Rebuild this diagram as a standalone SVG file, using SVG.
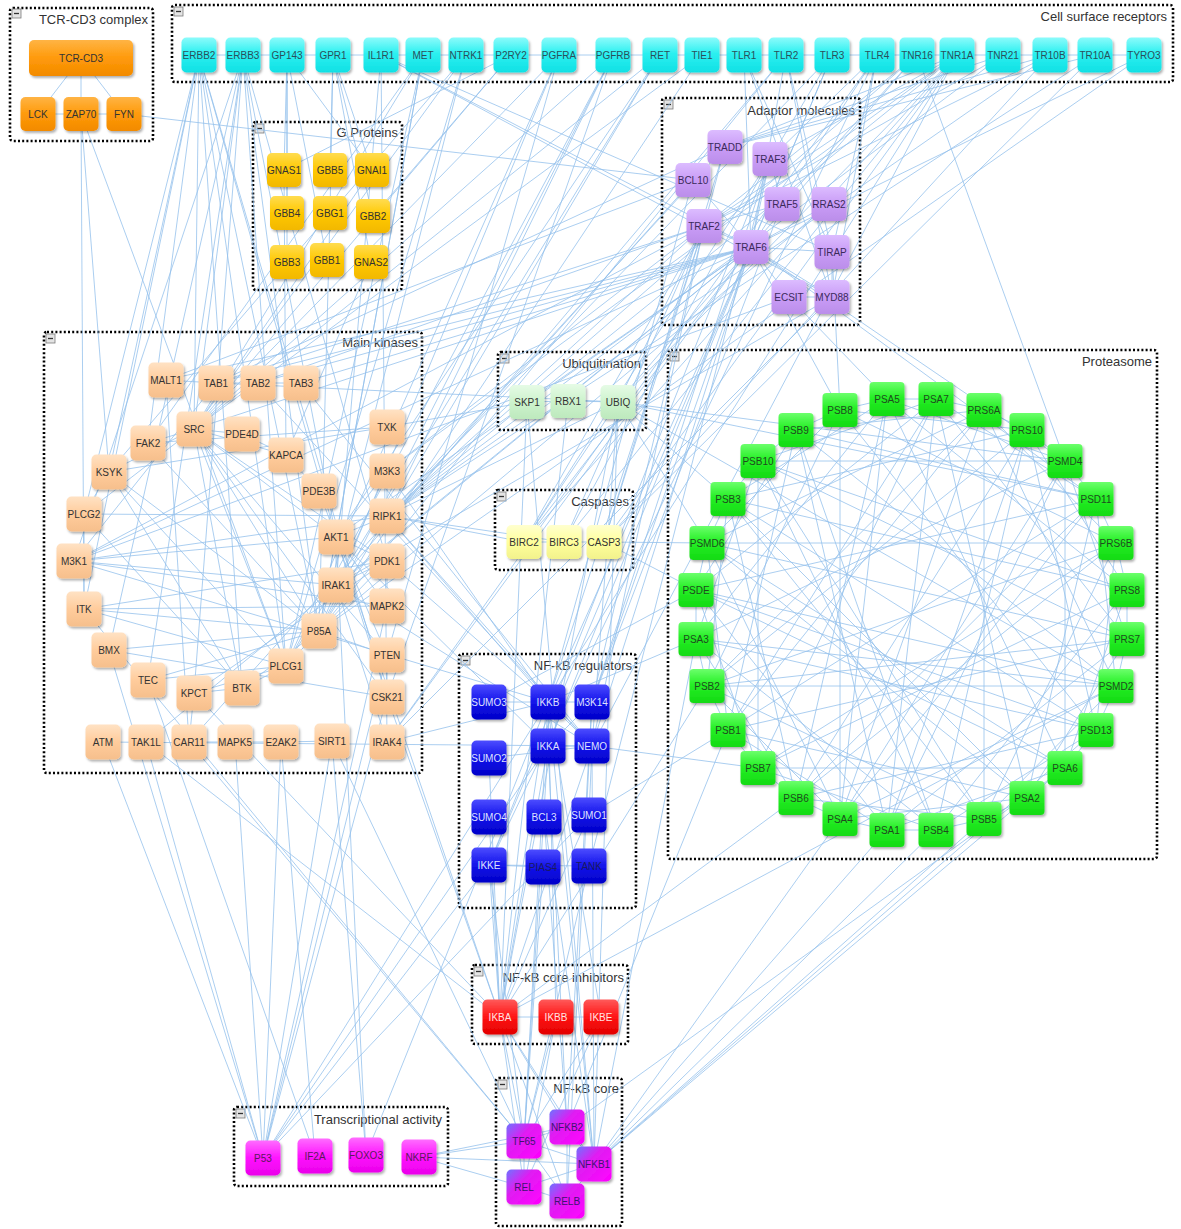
<svg xmlns="http://www.w3.org/2000/svg" width="1181" height="1229" viewBox="0 0 1181 1229">
<defs>
<filter id="sh" x="-20%" y="-20%" width="150%" height="150%"><feDropShadow dx="1.5" dy="2" stdDeviation="1.2" flood-color="#000" flood-opacity="0.3"/></filter>
<linearGradient id="g-tcr" x1="0" y1="0" x2="0" y2="1"><stop offset="0" stop-color="#ffb445"/><stop offset="0.5" stop-color="#ff9a0a"/><stop offset="1" stop-color="#f28a00"/></linearGradient>
<linearGradient id="g-rec" x1="0" y1="0" x2="0" y2="1"><stop offset="0" stop-color="#8cfbfb"/><stop offset="0.45" stop-color="#2cf0f0"/><stop offset="1" stop-color="#10e0e4"/></linearGradient>
<linearGradient id="g-gp" x1="0" y1="0" x2="0" y2="1"><stop offset="0" stop-color="#ffdc50"/><stop offset="0.5" stop-color="#ffc800"/><stop offset="1" stop-color="#f2b800"/></linearGradient>
<linearGradient id="g-ad" x1="0" y1="0" x2="0" y2="1"><stop offset="0" stop-color="#dcbcff"/><stop offset="0.5" stop-color="#c99cf6"/><stop offset="1" stop-color="#bb8eea"/></linearGradient>
<linearGradient id="g-kin" x1="0" y1="0" x2="0" y2="1"><stop offset="0" stop-color="#ffe2c4"/><stop offset="0.5" stop-color="#ffcc9c"/><stop offset="1" stop-color="#f6bf8c"/></linearGradient>
<linearGradient id="g-ub" x1="0" y1="0" x2="0" y2="1"><stop offset="0" stop-color="#e6fbe6"/><stop offset="0.5" stop-color="#cdf3cd"/><stop offset="1" stop-color="#bde9bd"/></linearGradient>
<linearGradient id="g-cas" x1="0" y1="0" x2="0" y2="1"><stop offset="0" stop-color="#ffffcf"/><stop offset="0.5" stop-color="#ffff9c"/><stop offset="1" stop-color="#f2f28c"/></linearGradient>
<linearGradient id="g-pro" x1="0" y1="0" x2="0" y2="1"><stop offset="0" stop-color="#6cff6c"/><stop offset="0.45" stop-color="#26f026"/><stop offset="1" stop-color="#14da14"/></linearGradient>
<linearGradient id="g-reg" x1="0" y1="0" x2="0" y2="1"><stop offset="0" stop-color="#4c4cff"/><stop offset="0.5" stop-color="#1414ea"/><stop offset="1" stop-color="#0000c8"/></linearGradient>
<linearGradient id="g-inh" x1="0" y1="0" x2="0" y2="1"><stop offset="0" stop-color="#ff5a5a"/><stop offset="0.5" stop-color="#ff1414"/><stop offset="1" stop-color="#e20000"/></linearGradient>
<linearGradient id="g-core" x1="0" y1="0" x2="1" y2="1"><stop offset="0" stop-color="#6e74ff"/><stop offset="0.4" stop-color="#e01cf2"/><stop offset="1" stop-color="#ff00ff"/></linearGradient>
<linearGradient id="g-tr" x1="0" y1="0" x2="0" y2="1"><stop offset="0" stop-color="#ff6cff"/><stop offset="0.5" stop-color="#ff14ff"/><stop offset="1" stop-color="#ea00ea"/></linearGradient>
</defs>
<style>
.ct rect.frame{fill:none;stroke:#000;stroke-width:2.6;stroke-dasharray:2 2.2}
.ct text{font-family:"Liberation Sans",Arial,sans-serif;font-size:13px;fill:#333;text-anchor:end}
.ct .tg rect{fill:#e4e4e4;stroke:#7a7a7a;stroke-width:0.8}
.ct .tg path{stroke:#333;stroke-width:1.3;fill:none}
#connectors line{stroke:#94c0ec;stroke-width:1;stroke-opacity:0.78}
.node rect{filter:url(#sh)}
.node text{font-family:"Liberation Sans",Arial,sans-serif;font-size:10px;text-anchor:middle;fill:#333}
.tcr rect{fill:url(#g-tcr)}
.rec rect{fill:url(#g-rec)}
.rec text{fill:#2b4f5a}
.gp rect{fill:url(#g-gp)}
.ad rect{fill:url(#g-ad)}
.ad text{fill:#3a2a5a}
.kin rect{fill:url(#g-kin)}
.ub rect{fill:url(#g-ub)}
.cas rect{fill:url(#g-cas)}
.pro rect{fill:url(#g-pro)}
.pro text{fill:#1f4a1f}
.reg rect{fill:url(#g-reg)}
.reg text{fill:#dfe0ff}
.reg text.dk{fill:#1a1a60}
.inh rect{fill:url(#g-inh)}
.inh text{fill:#ffe4e4}
.core rect{fill:url(#g-core)}
.core text{fill:#3d1470}
.tr rect{fill:url(#g-tr)}
.tr text{fill:#5a1a5a}
</style>
<rect width="1181" height="1229" fill="#fff"/>

<!-- group frames -->
<g id="grp-tcr" class="ct"><rect class="frame" x="10" y="8" width="143" height="133" rx="3"/><g class="tg"><rect x="12" y="9" width="9" height="9"/><path d="M14 13.5h5"/></g><text x="148" y="24">TCR-CD3 complex</text></g>
<g id="grp-receptors" class="ct"><rect class="frame" x="172" y="5" width="1001" height="77" rx="3"/><g class="tg"><rect x="174" y="7" width="9" height="9"/><path d="M176 11.5h5"/></g><text x="1167" y="21">Cell surface receptors</text></g>
<g id="grp-gproteins" class="ct"><rect class="frame" x="253" y="122" width="149" height="168" rx="3"/><g class="tg"><rect x="255" y="124" width="9" height="9"/><path d="M257 128.5h5"/></g><text x="398" y="137">G Proteins</text></g>
<g id="grp-adaptor" class="ct"><rect class="frame" x="662" y="98" width="198" height="227" rx="3"/><g class="tg"><rect x="664" y="100" width="9" height="9"/><path d="M666 104.5h5"/></g><text x="855" y="115">Adaptor molecules</text></g>
<g id="grp-kinases" class="ct"><rect class="frame" x="44" y="332" width="378" height="441" rx="3"/><g class="tg"><rect x="46" y="334" width="9" height="9"/><path d="M48 338.5h5"/></g><text x="418" y="347">Main kinases</text></g>
<g id="grp-ubiq" class="ct"><rect class="frame" x="498" y="352" width="148" height="78" rx="3"/><g class="tg"><rect x="500" y="354" width="9" height="9"/><path d="M502 358.5h5"/></g><text x="641" y="368">Ubiquitination</text></g>
<g id="grp-casp" class="ct"><rect class="frame" x="495" y="490" width="138" height="80" rx="3"/><g class="tg"><rect x="497" y="492" width="9" height="9"/><path d="M499 496.5h5"/></g><text x="629" y="506">Caspases</text></g>
<g id="grp-proteasome" class="ct"><rect class="frame" x="668" y="350" width="489" height="509" rx="3"/><g class="tg"><rect x="670" y="352" width="9" height="9"/><path d="M672 356.5h5"/></g><text x="1152" y="366">Proteasome</text></g>
<g id="grp-regulators" class="ct"><rect class="frame" x="459" y="654" width="177" height="254" rx="3"/><g class="tg"><rect x="461" y="656" width="9" height="9"/><path d="M463 660.5h5"/></g><text x="632" y="670">NF-kB regulators</text></g>
<g id="grp-inhibitors" class="ct"><rect class="frame" x="472" y="965" width="156" height="79" rx="3"/><g class="tg"><rect x="474" y="967" width="9" height="9"/><path d="M476 971.5h5"/></g><text x="624" y="982">NF-kB core inhibitors</text></g>
<g id="grp-core" class="ct"><rect class="frame" x="496" y="1078" width="126" height="148" rx="3"/><g class="tg"><rect x="498" y="1080" width="9" height="9"/><path d="M500 1084.5h5"/></g><text x="619" y="1093">NF-kB core</text></g>
<g id="grp-transcription" class="ct"><rect class="frame" x="234" y="1107" width="214" height="79" rx="3"/><g class="tg"><rect x="236" y="1109" width="9" height="9"/><path d="M238 1113.5h5"/></g><text x="442" y="1124">Transcriptional activity</text></g>

<g id="connectors">
<!-- TCR-CD3 complex -->
<line x1="81" y1="58" x2="38" y2="114"/><line x1="81" y1="58" x2="81" y2="114"/><line x1="81" y1="58" x2="124" y2="114"/>
<line x1="38" y1="114" x2="81" y2="114"/><line x1="81" y1="114" x2="124" y2="114"/>
<line x1="124" y1="114" x2="693" y2="180"/><line x1="81" y1="114" x2="84" y2="609"/><line x1="81" y1="114" x2="286" y2="666"/><line x1="81" y1="114" x2="109" y2="472"/>
<!-- receptor row -->
<line x1="199" y1="55" x2="243" y2="55"/><line x1="243" y1="55" x2="287" y2="55"/><line x1="287" y1="55" x2="333" y2="55"/><line x1="333" y1="55" x2="381" y2="55"/><line x1="381" y1="55" x2="423" y2="55"/><line x1="423" y1="55" x2="466" y2="55"/><line x1="466" y1="55" x2="511" y2="55"/><line x1="511" y1="55" x2="559" y2="55"/><line x1="559" y1="55" x2="613" y2="55"/><line x1="613" y1="55" x2="660" y2="55"/><line x1="660" y1="55" x2="702" y2="55"/><line x1="702" y1="55" x2="744" y2="55"/><line x1="744" y1="55" x2="786" y2="55"/><line x1="786" y1="55" x2="832" y2="55"/><line x1="832" y1="55" x2="877" y2="55"/><line x1="877" y1="55" x2="917" y2="55"/><line x1="917" y1="55" x2="957" y2="55"/><line x1="957" y1="55" x2="1003" y2="55"/><line x1="1003" y1="55" x2="1050" y2="55"/><line x1="1050" y1="55" x2="1095" y2="55"/><line x1="1095" y1="55" x2="1144" y2="55"/>
<!-- ERBB2 / ERBB3 -->
<line x1="199" y1="55" x2="194" y2="429"/><line x1="199" y1="55" x2="148" y2="443"/><line x1="199" y1="55" x2="109" y2="472"/><line x1="199" y1="55" x2="84" y2="514"/><line x1="199" y1="55" x2="319" y2="631"/><line x1="199" y1="55" x2="286" y2="666"/><line x1="199" y1="55" x2="242" y2="688"/><line x1="199" y1="55" x2="336" y2="537"/><line x1="199" y1="55" x2="387" y2="697"/><line x1="199" y1="55" x2="84" y2="609"/>
<line x1="243" y1="55" x2="194" y2="429"/><line x1="243" y1="55" x2="319" y2="631"/><line x1="243" y1="55" x2="336" y2="537"/><line x1="243" y1="55" x2="387" y2="561"/><line x1="243" y1="55" x2="286" y2="666"/><line x1="243" y1="55" x2="148" y2="680"/><line x1="243" y1="55" x2="194" y2="693"/><line x1="243" y1="55" x2="109" y2="650"/><line x1="243" y1="55" x2="74" y2="561"/>
<!-- GPCRs -->
<line x1="287" y1="55" x2="284" y2="170"/><line x1="287" y1="55" x2="372" y2="170"/><line x1="287" y1="55" x2="287" y2="213"/><line x1="287" y1="55" x2="327" y2="260"/><line x1="287" y1="55" x2="287" y2="262"/>
<line x1="333" y1="55" x2="372" y2="170"/><line x1="333" y1="55" x2="373" y2="216"/><line x1="333" y1="55" x2="371" y2="262"/><line x1="333" y1="55" x2="330" y2="170"/><line x1="333" y1="55" x2="330" y2="213"/>
<line x1="511" y1="55" x2="284" y2="170"/><line x1="511" y1="55" x2="373" y2="216"/><line x1="511" y1="55" x2="194" y2="429"/>
<!-- IL1R1, MET, NTRK1 -->
<line x1="381" y1="55" x2="751" y2="247"/><line x1="381" y1="55" x2="832" y2="297"/><line x1="381" y1="55" x2="336" y2="585"/><line x1="381" y1="55" x2="387" y2="742"/><line x1="381" y1="55" x2="832" y2="252"/>
<line x1="423" y1="55" x2="194" y2="429"/><line x1="423" y1="55" x2="319" y2="631"/><line x1="423" y1="55" x2="286" y2="666"/><line x1="423" y1="55" x2="336" y2="537"/><line x1="423" y1="55" x2="148" y2="443"/>
<line x1="466" y1="55" x2="286" y2="666"/><line x1="466" y1="55" x2="194" y2="429"/><line x1="466" y1="55" x2="319" y2="631"/><line x1="466" y1="55" x2="109" y2="472"/>
<!-- PDGF receptors, RET, TIE1 -->
<line x1="559" y1="55" x2="319" y2="631"/><line x1="559" y1="55" x2="286" y2="666"/><line x1="559" y1="55" x2="194" y2="429"/><line x1="559" y1="55" x2="387" y2="655"/>
<line x1="613" y1="55" x2="319" y2="631"/><line x1="613" y1="55" x2="286" y2="666"/><line x1="613" y1="55" x2="194" y2="429"/><line x1="613" y1="55" x2="387" y2="697"/><line x1="613" y1="55" x2="387" y2="516"/>
<line x1="660" y1="55" x2="194" y2="429"/><line x1="660" y1="55" x2="286" y2="666"/><line x1="660" y1="55" x2="319" y2="631"/><line x1="660" y1="55" x2="336" y2="537"/>
<line x1="702" y1="55" x2="319" y2="631"/><line x1="702" y1="55" x2="194" y2="429"/>
<!-- Toll-like receptors -->
<line x1="744" y1="55" x2="832" y2="297"/><line x1="744" y1="55" x2="832" y2="252"/><line x1="744" y1="55" x2="751" y2="247"/>
<line x1="786" y1="55" x2="832" y2="297"/><line x1="786" y1="55" x2="832" y2="252"/><line x1="786" y1="55" x2="751" y2="247"/><line x1="786" y1="55" x2="336" y2="585"/><line x1="786" y1="55" x2="319" y2="631"/>
<line x1="832" y1="55" x2="770" y2="159"/><line x1="832" y1="55" x2="751" y2="247"/><line x1="832" y1="55" x2="387" y2="516"/><line x1="832" y1="55" x2="489" y2="865"/>
<line x1="877" y1="55" x2="832" y2="297"/><line x1="877" y1="55" x2="832" y2="252"/><line x1="877" y1="55" x2="751" y2="247"/><line x1="877" y1="55" x2="387" y2="742"/><line x1="877" y1="55" x2="489" y2="865"/><line x1="877" y1="55" x2="770" y2="159"/>
<!-- TNF family receptors -->
<line x1="917" y1="55" x2="704" y2="226"/><line x1="917" y1="55" x2="751" y2="247"/><line x1="917" y1="55" x2="782" y2="204"/><line x1="917" y1="55" x2="387" y2="516"/><line x1="917" y1="55" x2="1065" y2="461"/>
<line x1="957" y1="55" x2="725" y2="147"/><line x1="957" y1="55" x2="704" y2="226"/><line x1="957" y1="55" x2="387" y2="516"/><line x1="957" y1="55" x2="387" y2="471"/><line x1="957" y1="55" x2="524" y2="542"/><line x1="957" y1="55" x2="564" y2="542"/><line x1="957" y1="55" x2="604" y2="542"/><line x1="957" y1="55" x2="592" y2="746"/><line x1="957" y1="55" x2="548" y2="702"/><line x1="957" y1="55" x2="618" y2="402"/><line x1="957" y1="55" x2="770" y2="159"/>
<line x1="1003" y1="55" x2="725" y2="147"/><line x1="1003" y1="55" x2="704" y2="226"/><line x1="1003" y1="55" x2="387" y2="516"/>
<line x1="1050" y1="55" x2="725" y2="147"/><line x1="1050" y1="55" x2="387" y2="516"/><line x1="1050" y1="55" x2="604" y2="542"/><line x1="1050" y1="55" x2="704" y2="226"/>
<line x1="1095" y1="55" x2="725" y2="147"/><line x1="1095" y1="55" x2="387" y2="516"/><line x1="1095" y1="55" x2="604" y2="542"/>
<line x1="1144" y1="55" x2="751" y2="247"/><line x1="1144" y1="55" x2="319" y2="631"/>
<!-- adaptor molecules -->
<line x1="725" y1="147" x2="704" y2="226"/><line x1="770" y1="159" x2="782" y2="204"/><line x1="770" y1="159" x2="751" y2="247"/><line x1="704" y1="226" x2="751" y2="247"/><line x1="704" y1="226" x2="782" y2="204"/><line x1="693" y1="180" x2="751" y2="247"/><line x1="751" y1="247" x2="832" y2="252"/><line x1="751" y1="247" x2="789" y2="297"/><line x1="751" y1="247" x2="832" y2="297"/><line x1="832" y1="252" x2="832" y2="297"/><line x1="789" y1="297" x2="832" y2="297"/><line x1="829" y1="204" x2="751" y2="247"/><line x1="829" y1="204" x2="319" y2="631"/>
<line x1="751" y1="247" x2="216" y2="383"/><line x1="751" y1="247" x2="258" y2="383"/><line x1="751" y1="247" x2="301" y2="383"/><line x1="751" y1="247" x2="336" y2="585"/><line x1="751" y1="247" x2="387" y2="742"/><line x1="751" y1="247" x2="166" y2="380"/><line x1="751" y1="247" x2="74" y2="561"/><line x1="751" y1="247" x2="194" y2="429"/><line x1="751" y1="247" x2="336" y2="537"/><line x1="751" y1="247" x2="618" y2="402"/><line x1="751" y1="247" x2="527" y2="402"/><line x1="751" y1="247" x2="592" y2="746"/><line x1="751" y1="247" x2="548" y2="702"/><line x1="751" y1="247" x2="548" y2="746"/><line x1="751" y1="247" x2="592" y2="702"/><line x1="751" y1="247" x2="524" y2="542"/><line x1="751" y1="247" x2="1065" y2="461"/><line x1="751" y1="247" x2="1096" y2="499"/><line x1="751" y1="247" x2="146" y2="742"/>
<line x1="704" y1="226" x2="387" y2="516"/><line x1="704" y1="226" x2="524" y2="542"/><line x1="704" y1="226" x2="564" y2="542"/><line x1="704" y1="226" x2="387" y2="471"/><line x1="704" y1="226" x2="74" y2="561"/><line x1="704" y1="226" x2="258" y2="383"/><line x1="704" y1="226" x2="592" y2="746"/><line x1="704" y1="226" x2="548" y2="702"/><line x1="704" y1="226" x2="592" y2="702"/><line x1="704" y1="226" x2="604" y2="542"/><line x1="704" y1="226" x2="618" y2="402"/><line x1="704" y1="226" x2="216" y2="383"/>
<line x1="725" y1="147" x2="387" y2="516"/><line x1="725" y1="147" x2="604" y2="542"/><line x1="725" y1="147" x2="216" y2="383"/>
<line x1="693" y1="180" x2="166" y2="380"/><line x1="693" y1="180" x2="189" y2="742"/><line x1="693" y1="180" x2="548" y2="702"/>
<line x1="770" y1="159" x2="592" y2="702"/><line x1="770" y1="159" x2="489" y2="865"/><line x1="770" y1="159" x2="524" y2="542"/><line x1="770" y1="159" x2="564" y2="542"/><line x1="770" y1="159" x2="589" y2="866"/>
<line x1="782" y1="204" x2="592" y2="702"/>
<line x1="832" y1="297" x2="336" y2="585"/><line x1="832" y1="297" x2="387" y2="742"/>
<line x1="789" y1="297" x2="74" y2="561"/><line x1="789" y1="297" x2="887" y2="399"/>
<line x1="832" y1="252" x2="840" y2="410"/><line x1="840" y1="410" x2="751" y2="247"/>
<!-- G proteins to kinases -->
<line x1="284" y1="170" x2="286" y2="455"/><line x1="371" y1="262" x2="286" y2="455"/><line x1="372" y1="170" x2="194" y2="429"/><line x1="330" y1="213" x2="319" y2="631"/>
<!-- main kinases -->
<line x1="166" y1="380" x2="216" y2="383"/><line x1="216" y1="383" x2="258" y2="383"/><line x1="258" y1="383" x2="301" y2="383"/><line x1="166" y1="380" x2="189" y2="742"/>
<line x1="194" y1="429" x2="148" y2="443"/><line x1="194" y1="429" x2="109" y2="472"/><line x1="194" y1="429" x2="242" y2="434"/><line x1="194" y1="429" x2="286" y2="666"/><line x1="194" y1="429" x2="319" y2="631"/><line x1="194" y1="429" x2="336" y2="537"/><line x1="194" y1="429" x2="387" y2="655"/><line x1="194" y1="429" x2="387" y2="697"/><line x1="194" y1="429" x2="242" y2="688"/><line x1="194" y1="429" x2="84" y2="514"/><line x1="194" y1="429" x2="387" y2="561"/><line x1="194" y1="429" x2="286" y2="455"/>
<line x1="148" y1="443" x2="319" y2="631"/><line x1="148" y1="443" x2="387" y2="427"/>
<line x1="109" y1="472" x2="84" y2="514"/><line x1="109" y1="472" x2="286" y2="666"/><line x1="109" y1="472" x2="242" y2="688"/><line x1="109" y1="472" x2="319" y2="631"/><line x1="109" y1="472" x2="387" y2="427"/>
<line x1="84" y1="514" x2="242" y2="688"/><line x1="84" y1="514" x2="387" y2="516"/>
<line x1="74" y1="561" x2="216" y2="383"/><line x1="74" y1="561" x2="548" y2="702"/><line x1="74" y1="561" x2="387" y2="606"/><line x1="74" y1="561" x2="387" y2="516"/><line x1="74" y1="561" x2="336" y2="537"/><line x1="74" y1="561" x2="336" y2="585"/>
<line x1="84" y1="609" x2="286" y2="666"/><line x1="84" y1="609" x2="319" y2="631"/><line x1="84" y1="609" x2="387" y2="561"/><line x1="84" y1="609" x2="84" y2="514"/><line x1="84" y1="609" x2="387" y2="606"/>
<line x1="109" y1="650" x2="319" y2="631"/><line x1="109" y1="650" x2="387" y2="697"/>
<line x1="148" y1="680" x2="286" y2="666"/><line x1="148" y1="680" x2="319" y2="631"/>
<line x1="194" y1="693" x2="189" y2="742"/><line x1="194" y1="693" x2="242" y2="688"/><line x1="194" y1="693" x2="387" y2="561"/><line x1="194" y1="693" x2="286" y2="666"/>
<line x1="242" y1="688" x2="286" y2="666"/><line x1="242" y1="688" x2="319" y2="631"/>
<line x1="242" y1="434" x2="286" y2="455"/><line x1="286" y1="455" x2="319" y2="491"/><line x1="319" y1="491" x2="336" y2="537"/>
<line x1="336" y1="537" x2="387" y2="561"/><line x1="336" y1="537" x2="387" y2="655"/><line x1="336" y1="537" x2="319" y2="631"/><line x1="336" y1="537" x2="336" y2="585"/><line x1="336" y1="537" x2="387" y2="516"/><line x1="336" y1="537" x2="387" y2="471"/><line x1="336" y1="537" x2="387" y2="697"/><line x1="336" y1="537" x2="387" y2="606"/>
<line x1="336" y1="585" x2="387" y2="742"/><line x1="336" y1="585" x2="387" y2="561"/><line x1="336" y1="585" x2="387" y2="471"/>
<line x1="319" y1="631" x2="387" y2="655"/><line x1="319" y1="631" x2="286" y2="666"/><line x1="319" y1="631" x2="387" y2="561"/>
<line x1="387" y1="655" x2="387" y2="697"/><line x1="387" y1="606" x2="387" y2="561"/><line x1="387" y1="516" x2="387" y2="471"/>
<line x1="189" y1="742" x2="235" y2="742"/><line x1="235" y1="742" x2="281" y2="742"/><line x1="281" y1="742" x2="332" y2="741"/>
<!-- kinases to downstream groups -->
<line x1="216" y1="383" x2="618" y2="402"/><line x1="387" y1="427" x2="527" y2="402"/><line x1="387" y1="471" x2="548" y2="702"/><line x1="387" y1="516" x2="592" y2="746"/><line x1="387" y1="516" x2="548" y2="702"/><line x1="387" y1="561" x2="548" y2="702"/><line x1="336" y1="537" x2="548" y2="746"/><line x1="387" y1="697" x2="500" y2="1017"/><line x1="387" y1="697" x2="263" y2="1158"/><line x1="258" y1="383" x2="592" y2="746"/><line x1="301" y1="383" x2="592" y2="746"/><line x1="336" y1="585" x2="592" y2="746"/><line x1="103" y1="742" x2="263" y2="1158"/><line x1="103" y1="742" x2="592" y2="746"/><line x1="146" y1="742" x2="263" y2="1158"/><line x1="281" y1="742" x2="315" y2="1156"/><line x1="332" y1="741" x2="263" y2="1158"/><line x1="332" y1="741" x2="366" y2="1155"/><line x1="332" y1="741" x2="524" y2="1141"/><line x1="336" y1="537" x2="366" y2="1155"/><line x1="387" y1="606" x2="263" y2="1158"/><line x1="387" y1="742" x2="548" y2="702"/>
<line x1="109" y1="650" x2="263" y2="1158"/><line x1="235" y1="742" x2="263" y2="1158"/><line x1="84" y1="609" x2="524" y2="1141"/><line x1="194" y1="693" x2="500" y2="1017"/><line x1="189" y1="742" x2="524" y2="1141"/><line x1="387" y1="655" x2="263" y2="1158"/><line x1="281" y1="742" x2="263" y2="1158"/><line x1="146" y1="742" x2="500" y2="1017"/><line x1="336" y1="537" x2="500" y2="1017"/><line x1="148" y1="680" x2="315" y2="1156"/>
<line x1="263" y1="1158" x2="589" y2="815"/><line x1="263" y1="1158" x2="548" y2="746"/><line x1="263" y1="1158" x2="548" y2="702"/><line x1="263" y1="1158" x2="489" y2="865"/><line x1="366" y1="1155" x2="548" y2="702"/>
<!-- ubiquitination -->
<line x1="527" y1="402" x2="568" y2="401"/><line x1="568" y1="401" x2="618" y2="402"/><line x1="527" y1="402" x2="500" y2="1017"/><line x1="527" y1="402" x2="594" y2="1164"/><line x1="568" y1="401" x2="500" y2="1017"/><line x1="618" y1="402" x2="500" y2="1017"/><line x1="618" y1="402" x2="592" y2="746"/><line x1="618" y1="402" x2="594" y2="1164"/><line x1="618" y1="402" x2="1065" y2="461"/><line x1="618" y1="402" x2="1116" y2="686"/><line x1="618" y1="402" x2="1096" y2="499"/><line x1="618" y1="402" x2="387" y2="516"/>
<!-- caspases -->
<line x1="524" y1="542" x2="564" y2="542"/><line x1="564" y1="542" x2="604" y2="542"/><line x1="524" y1="542" x2="387" y2="516"/><line x1="564" y1="542" x2="387" y2="516"/><line x1="524" y1="542" x2="618" y2="402"/>
<!-- NF-kB regulators -->
<line x1="548" y1="702" x2="592" y2="702"/><line x1="548" y1="702" x2="548" y2="746"/><line x1="548" y1="702" x2="592" y2="746"/><line x1="548" y1="746" x2="592" y2="746"/><line x1="548" y1="746" x2="592" y2="702"/><line x1="489" y1="702" x2="548" y2="702"/><line x1="489" y1="865" x2="543" y2="867"/><line x1="489" y1="865" x2="589" y2="866"/><line x1="592" y1="746" x2="589" y2="815"/><line x1="489" y1="758" x2="592" y2="746"/>
<line x1="548" y1="702" x2="500" y2="1017"/><line x1="548" y1="702" x2="556" y2="1017"/><line x1="548" y1="702" x2="601" y2="1017"/><line x1="548" y1="702" x2="524" y2="1141"/><line x1="548" y1="702" x2="594" y2="1164"/><line x1="548" y1="746" x2="500" y2="1017"/><line x1="548" y1="746" x2="567" y2="1127"/><line x1="548" y1="746" x2="524" y2="1141"/><line x1="592" y1="746" x2="500" y2="1017"/><line x1="592" y1="702" x2="567" y2="1127"/><line x1="592" y1="702" x2="567" y2="1201"/><line x1="489" y1="865" x2="524" y2="1141"/><line x1="489" y1="865" x2="500" y2="1017"/><line x1="589" y1="866" x2="524" y2="1141"/><line x1="544" y1="817" x2="594" y2="1164"/><line x1="544" y1="817" x2="567" y2="1127"/><line x1="589" y1="815" x2="500" y2="1017"/><line x1="489" y1="758" x2="500" y2="1017"/><line x1="489" y1="817" x2="500" y2="1017"/><line x1="543" y1="867" x2="524" y2="1141"/><line x1="592" y1="746" x2="594" y2="1164"/>
<!-- inhibitors and core -->
<line x1="500" y1="1017" x2="556" y2="1017"/><line x1="556" y1="1017" x2="601" y2="1017"/><line x1="500" y1="1017" x2="524" y2="1141"/><line x1="500" y1="1017" x2="594" y2="1164"/><line x1="500" y1="1017" x2="524" y2="1187"/><line x1="500" y1="1017" x2="567" y2="1201"/><line x1="500" y1="1017" x2="567" y2="1127"/><line x1="556" y1="1017" x2="524" y2="1141"/><line x1="556" y1="1017" x2="524" y2="1187"/><line x1="601" y1="1017" x2="524" y2="1141"/><line x1="601" y1="1017" x2="524" y2="1187"/>
<line x1="524" y1="1141" x2="567" y2="1127"/><line x1="524" y1="1141" x2="594" y2="1164"/><line x1="524" y1="1141" x2="524" y2="1187"/><line x1="524" y1="1141" x2="567" y2="1201"/><line x1="524" y1="1187" x2="567" y2="1201"/><line x1="524" y1="1187" x2="594" y2="1164"/><line x1="594" y1="1164" x2="567" y2="1201"/><line x1="567" y1="1127" x2="567" y2="1201"/><line x1="567" y1="1127" x2="594" y2="1164"/>
<line x1="419" y1="1157" x2="524" y2="1141"/><line x1="419" y1="1157" x2="567" y2="1127"/><line x1="419" y1="1157" x2="594" y2="1164"/><line x1="419" y1="1157" x2="524" y2="1187"/>
<!-- proteasome to NF-kB and neighbours -->
<line x1="887" y1="830" x2="594" y2="1164"/><line x1="936" y1="830" x2="594" y2="1164"/><line x1="984" y1="819" x2="594" y2="1164"/><line x1="1027" y1="798" x2="594" y2="1164"/><line x1="1065" y1="768" x2="567" y2="1127"/><line x1="1096" y1="730" x2="594" y2="1164"/><line x1="1116" y1="686" x2="500" y2="1017"/><line x1="840" y1="819" x2="594" y2="1164"/><line x1="796" y1="798" x2="500" y2="1017"/><line x1="696" y1="639" x2="594" y2="1164"/><line x1="707" y1="686" x2="500" y2="1017"/><line x1="728" y1="730" x2="567" y2="1127"/><line x1="696" y1="639" x2="548" y2="702"/><line x1="758" y1="768" x2="592" y2="746"/><line x1="728" y1="730" x2="589" y2="815"/><line x1="696" y1="590" x2="489" y2="702"/><line x1="707" y1="543" x2="618" y2="402"/><line x1="707" y1="543" x2="604" y2="542"/><line x1="728" y1="499" x2="618" y2="402"/><line x1="696" y1="590" x2="604" y2="542"/>
<!-- proteasome internal -->
<line x1="887" y1="399" x2="936" y2="399"/><line x1="936" y1="399" x2="984" y2="410"/><line x1="984" y1="410" x2="1027" y2="430"/><line x1="1027" y1="430" x2="1065" y2="461"/><line x1="1065" y1="461" x2="1096" y2="499"/><line x1="1096" y1="499" x2="1116" y2="543"/><line x1="1116" y1="543" x2="1127" y2="590"/><line x1="1127" y1="590" x2="1127" y2="639"/><line x1="1127" y1="639" x2="1116" y2="686"/><line x1="1116" y1="686" x2="1096" y2="730"/><line x1="1096" y1="730" x2="1065" y2="768"/><line x1="1065" y1="768" x2="1027" y2="798"/><line x1="1027" y1="798" x2="984" y2="819"/><line x1="984" y1="819" x2="936" y2="830"/><line x1="936" y1="830" x2="887" y2="830"/><line x1="887" y1="830" x2="840" y2="819"/><line x1="840" y1="819" x2="796" y2="798"/><line x1="796" y1="798" x2="758" y2="768"/><line x1="758" y1="768" x2="728" y2="730"/><line x1="728" y1="730" x2="707" y2="686"/><line x1="707" y1="686" x2="696" y2="639"/><line x1="696" y1="639" x2="696" y2="590"/><line x1="696" y1="590" x2="707" y2="543"/><line x1="707" y1="543" x2="728" y2="499"/><line x1="728" y1="499" x2="758" y2="461"/><line x1="758" y1="461" x2="796" y2="430"/><line x1="796" y1="430" x2="840" y2="410"/><line x1="840" y1="410" x2="887" y2="399"/>
<line x1="887" y1="399" x2="1065" y2="461"/><line x1="936" y1="399" x2="1096" y2="499"/><line x1="984" y1="410" x2="1116" y2="543"/><line x1="1027" y1="430" x2="1127" y2="590"/><line x1="1065" y1="461" x2="1127" y2="639"/><line x1="1096" y1="499" x2="1116" y2="686"/><line x1="1116" y1="543" x2="1096" y2="730"/><line x1="1127" y1="590" x2="1065" y2="768"/><line x1="1127" y1="639" x2="1027" y2="798"/><line x1="1116" y1="686" x2="984" y2="819"/><line x1="1096" y1="730" x2="936" y2="830"/><line x1="1065" y1="768" x2="887" y2="830"/><line x1="1027" y1="798" x2="840" y2="819"/><line x1="984" y1="819" x2="796" y2="798"/><line x1="936" y1="830" x2="758" y2="768"/><line x1="887" y1="830" x2="728" y2="730"/><line x1="840" y1="819" x2="707" y2="686"/><line x1="796" y1="798" x2="696" y2="639"/><line x1="758" y1="768" x2="696" y2="590"/><line x1="728" y1="730" x2="707" y2="543"/><line x1="707" y1="686" x2="728" y2="499"/><line x1="696" y1="639" x2="758" y2="461"/><line x1="696" y1="590" x2="796" y2="430"/><line x1="707" y1="543" x2="840" y2="410"/><line x1="728" y1="499" x2="887" y2="399"/><line x1="758" y1="461" x2="936" y2="399"/><line x1="796" y1="430" x2="984" y2="410"/><line x1="840" y1="410" x2="1027" y2="430"/>
<line x1="887" y1="399" x2="1127" y2="590"/><line x1="936" y1="399" x2="1127" y2="639"/><line x1="984" y1="410" x2="1116" y2="686"/><line x1="1027" y1="430" x2="1096" y2="730"/><line x1="1065" y1="461" x2="1065" y2="768"/><line x1="1096" y1="499" x2="1027" y2="798"/><line x1="1116" y1="543" x2="984" y2="819"/><line x1="1127" y1="590" x2="936" y2="830"/><line x1="1127" y1="639" x2="887" y2="830"/><line x1="1116" y1="686" x2="840" y2="819"/><line x1="1096" y1="730" x2="796" y2="798"/><line x1="1065" y1="768" x2="758" y2="768"/><line x1="1027" y1="798" x2="728" y2="730"/><line x1="984" y1="819" x2="707" y2="686"/><line x1="936" y1="830" x2="696" y2="639"/><line x1="887" y1="830" x2="696" y2="590"/><line x1="840" y1="819" x2="707" y2="543"/><line x1="796" y1="798" x2="728" y2="499"/><line x1="758" y1="768" x2="758" y2="461"/><line x1="728" y1="730" x2="796" y2="430"/><line x1="707" y1="686" x2="840" y2="410"/><line x1="696" y1="639" x2="887" y2="399"/><line x1="696" y1="590" x2="936" y2="399"/><line x1="707" y1="543" x2="984" y2="410"/><line x1="728" y1="499" x2="1027" y2="430"/><line x1="758" y1="461" x2="1065" y2="461"/><line x1="796" y1="430" x2="1096" y2="499"/><line x1="840" y1="410" x2="1116" y2="543"/>
<line x1="887" y1="399" x2="1065" y2="768"/><line x1="936" y1="399" x2="1027" y2="798"/><line x1="984" y1="410" x2="984" y2="819"/><line x1="1027" y1="430" x2="936" y2="830"/><line x1="1065" y1="461" x2="887" y2="830"/><line x1="1096" y1="499" x2="840" y2="819"/><line x1="1116" y1="543" x2="796" y2="798"/><line x1="1127" y1="590" x2="758" y2="768"/><line x1="1127" y1="639" x2="728" y2="730"/><line x1="1116" y1="686" x2="707" y2="686"/><line x1="1096" y1="730" x2="696" y2="639"/><line x1="1065" y1="768" x2="696" y2="590"/><line x1="1027" y1="798" x2="707" y2="543"/><line x1="984" y1="819" x2="728" y2="499"/><line x1="936" y1="830" x2="758" y2="461"/><line x1="887" y1="830" x2="796" y2="430"/><line x1="840" y1="819" x2="840" y2="410"/><line x1="796" y1="798" x2="887" y2="399"/><line x1="758" y1="768" x2="936" y2="399"/><line x1="728" y1="730" x2="984" y2="410"/><line x1="707" y1="686" x2="1027" y2="430"/><line x1="696" y1="639" x2="1065" y2="461"/><line x1="696" y1="590" x2="1096" y2="499"/><line x1="707" y1="543" x2="1116" y2="543"/><line x1="728" y1="499" x2="1127" y2="590"/><line x1="758" y1="461" x2="1127" y2="639"/><line x1="796" y1="430" x2="1116" y2="686"/><line x1="840" y1="410" x2="1096" y2="730"/>
<line x1="887" y1="399" x2="840" y2="819"/><line x1="936" y1="399" x2="728" y2="730"/><line x1="1027" y1="430" x2="887" y2="830"/><line x1="1096" y1="499" x2="796" y2="798"/><line x1="1116" y1="543" x2="758" y2="768"/><line x1="1116" y1="686" x2="696" y2="639"/><line x1="1096" y1="730" x2="696" y2="590"/><line x1="1027" y1="798" x2="728" y2="499"/><line x1="984" y1="819" x2="758" y2="461"/><line x1="707" y1="686" x2="1127" y2="639"/><line x1="707" y1="543" x2="1065" y2="768"/><line x1="796" y1="430" x2="936" y2="830"/><line x1="984" y1="410" x2="707" y2="686"/><line x1="1065" y1="461" x2="840" y2="819"/><line x1="1127" y1="590" x2="758" y2="461"/>
<line x1="936" y1="399" x2="887" y2="830"/><line x1="1096" y1="499" x2="728" y2="730"/><line x1="1116" y1="686" x2="696" y2="590"/><line x1="728" y1="499" x2="1096" y2="730"/><line x1="1027" y1="430" x2="796" y2="798"/><line x1="707" y1="686" x2="1116" y2="543"/><line x1="984" y1="410" x2="840" y2="819"/><line x1="1127" y1="639" x2="707" y2="543"/>
</g>

<!-- nodes -->
<g id="n-TCR-CD3" class="node tcr" transform="translate(81 58)"><rect x="-52" y="-18" width="104" height="36" rx="5"/><text y="3.5">TCR-CD3</text></g>
<g id="n-LCK" class="node tcr" transform="translate(38 114)"><rect x="-17.5" y="-17" width="35" height="34" rx="5"/><text y="3.5">LCK</text></g>
<g id="n-ZAP70" class="node tcr" transform="translate(81 114)"><rect x="-17.5" y="-17" width="35" height="34" rx="5"/><text y="3.5">ZAP70</text></g>
<g id="n-FYN" class="node tcr" transform="translate(124 114)"><rect x="-17.5" y="-17" width="35" height="34" rx="5"/><text y="3.5">FYN</text></g>

<g id="n-ERBB2" class="node rec" transform="translate(199 55)"><rect x="-17.5" y="-17.5" width="35" height="35" rx="5"/><text y="3.5">ERBB2</text></g>
<g id="n-ERBB3" class="node rec" transform="translate(243 55)"><rect x="-17.5" y="-17.5" width="35" height="35" rx="5"/><text y="3.5">ERBB3</text></g>
<g id="n-GP143" class="node rec" transform="translate(287 55)"><rect x="-17.5" y="-17.5" width="35" height="35" rx="5"/><text y="3.5">GP143</text></g>
<g id="n-GPR1" class="node rec" transform="translate(333 55)"><rect x="-17.5" y="-17.5" width="35" height="35" rx="5"/><text y="3.5">GPR1</text></g>
<g id="n-IL1R1" class="node rec" transform="translate(381 55)"><rect x="-17.5" y="-17.5" width="35" height="35" rx="5"/><text y="3.5">IL1R1</text></g>
<g id="n-MET" class="node rec" transform="translate(423 55)"><rect x="-17.5" y="-17.5" width="35" height="35" rx="5"/><text y="3.5">MET</text></g>
<g id="n-NTRK1" class="node rec" transform="translate(466 55)"><rect x="-17.5" y="-17.5" width="35" height="35" rx="5"/><text y="3.5">NTRK1</text></g>
<g id="n-P2RY2" class="node rec" transform="translate(511 55)"><rect x="-17.5" y="-17.5" width="35" height="35" rx="5"/><text y="3.5">P2RY2</text></g>
<g id="n-PGFRA" class="node rec" transform="translate(559 55)"><rect x="-17.5" y="-17.5" width="35" height="35" rx="5"/><text y="3.5">PGFRA</text></g>
<g id="n-PGFRB" class="node rec" transform="translate(613 55)"><rect x="-17.5" y="-17.5" width="35" height="35" rx="5"/><text y="3.5">PGFRB</text></g>
<g id="n-RET" class="node rec" transform="translate(660 55)"><rect x="-17.5" y="-17.5" width="35" height="35" rx="5"/><text y="3.5">RET</text></g>
<g id="n-TIE1" class="node rec" transform="translate(702 55)"><rect x="-17.5" y="-17.5" width="35" height="35" rx="5"/><text y="3.5">TIE1</text></g>
<g id="n-TLR1" class="node rec" transform="translate(744 55)"><rect x="-17.5" y="-17.5" width="35" height="35" rx="5"/><text y="3.5">TLR1</text></g>
<g id="n-TLR2" class="node rec" transform="translate(786 55)"><rect x="-17.5" y="-17.5" width="35" height="35" rx="5"/><text y="3.5">TLR2</text></g>
<g id="n-TLR3" class="node rec" transform="translate(832 55)"><rect x="-17.5" y="-17.5" width="35" height="35" rx="5"/><text y="3.5">TLR3</text></g>
<g id="n-TLR4" class="node rec" transform="translate(877 55)"><rect x="-17.5" y="-17.5" width="35" height="35" rx="5"/><text y="3.5">TLR4</text></g>
<g id="n-TNR16" class="node rec" transform="translate(917 55)"><rect x="-17.5" y="-17.5" width="35" height="35" rx="5"/><text y="3.5">TNR16</text></g>
<g id="n-TNR1A" class="node rec" transform="translate(957 55)"><rect x="-17.5" y="-17.5" width="35" height="35" rx="5"/><text y="3.5">TNR1A</text></g>
<g id="n-TNR21" class="node rec" transform="translate(1003 55)"><rect x="-17.5" y="-17.5" width="35" height="35" rx="5"/><text y="3.5">TNR21</text></g>
<g id="n-TR10B" class="node rec" transform="translate(1050 55)"><rect x="-17.5" y="-17.5" width="35" height="35" rx="5"/><text y="3.5">TR10B</text></g>
<g id="n-TR10A" class="node rec" transform="translate(1095 55)"><rect x="-17.5" y="-17.5" width="35" height="35" rx="5"/><text y="3.5">TR10A</text></g>
<g id="n-TYRO3" class="node rec" transform="translate(1144 55)"><rect x="-17.5" y="-17.5" width="35" height="35" rx="5"/><text y="3.5">TYRO3</text></g>

<g id="n-GNAS1" class="node gp" transform="translate(284 170)"><rect x="-17" y="-17" width="34" height="34" rx="5"/><text y="3.5">GNAS1</text></g>
<g id="n-GBB5" class="node gp" transform="translate(330 170)"><rect x="-17" y="-17" width="34" height="34" rx="5"/><text y="3.5">GBB5</text></g>
<g id="n-GNAI1" class="node gp" transform="translate(372 170)"><rect x="-17" y="-17" width="34" height="34" rx="5"/><text y="3.5">GNAI1</text></g>
<g id="n-GBB4" class="node gp" transform="translate(287 213)"><rect x="-17" y="-17" width="34" height="34" rx="5"/><text y="3.5">GBB4</text></g>
<g id="n-GBG1" class="node gp" transform="translate(330 213)"><rect x="-17" y="-17" width="34" height="34" rx="5"/><text y="3.5">GBG1</text></g>
<g id="n-GBB2" class="node gp" transform="translate(373 216)"><rect x="-17" y="-17" width="34" height="34" rx="5"/><text y="3.5">GBB2</text></g>
<g id="n-GBB3" class="node gp" transform="translate(287 262)"><rect x="-17" y="-17" width="34" height="34" rx="5"/><text y="3.5">GBB3</text></g>
<g id="n-GBB1" class="node gp" transform="translate(327 260)"><rect x="-17" y="-17" width="34" height="34" rx="5"/><text y="3.5">GBB1</text></g>
<g id="n-GNAS2" class="node gp" transform="translate(371 262)"><rect x="-17" y="-17" width="34" height="34" rx="5"/><text y="3.5">GNAS2</text></g>

<g id="n-TRADD" class="node ad" transform="translate(725 147)"><rect x="-17.5" y="-17" width="35" height="34" rx="5"/><text y="3.5">TRADD</text></g>
<g id="n-TRAF3" class="node ad" transform="translate(770 159)"><rect x="-17.5" y="-17" width="35" height="34" rx="5"/><text y="3.5">TRAF3</text></g>
<g id="n-BCL10" class="node ad" transform="translate(693 180)"><rect x="-17.5" y="-17" width="35" height="34" rx="5"/><text y="3.5">BCL10</text></g>
<g id="n-TRAF5" class="node ad" transform="translate(782 204)"><rect x="-17.5" y="-17" width="35" height="34" rx="5"/><text y="3.5">TRAF5</text></g>
<g id="n-RRAS2" class="node ad" transform="translate(829 204)"><rect x="-17.5" y="-17" width="35" height="34" rx="5"/><text y="3.5">RRAS2</text></g>
<g id="n-TRAF2" class="node ad" transform="translate(704 226)"><rect x="-17.5" y="-17" width="35" height="34" rx="5"/><text y="3.5">TRAF2</text></g>
<g id="n-TRAF6" class="node ad" transform="translate(751 247)"><rect x="-17.5" y="-17" width="35" height="34" rx="5"/><text y="3.5">TRAF6</text></g>
<g id="n-TIRAP" class="node ad" transform="translate(832 252)"><rect x="-17.5" y="-17" width="35" height="34" rx="5"/><text y="3.5">TIRAP</text></g>
<g id="n-ECSIT" class="node ad" transform="translate(789 297)"><rect x="-17.5" y="-17" width="35" height="34" rx="5"/><text y="3.5">ECSIT</text></g>
<g id="n-MYD88" class="node ad" transform="translate(832 297)"><rect x="-17.5" y="-17" width="35" height="34" rx="5"/><text y="3.5">MYD88</text></g>

<g id="n-MALT1" class="node kin" transform="translate(166 380)"><rect x="-17.5" y="-17.5" width="35" height="35" rx="5"/><text y="3.5">MALT1</text></g>
<g id="n-TAB1" class="node kin" transform="translate(216 383)"><rect x="-17.5" y="-17.5" width="35" height="35" rx="5"/><text y="3.5">TAB1</text></g>
<g id="n-TAB2" class="node kin" transform="translate(258 383)"><rect x="-17.5" y="-17.5" width="35" height="35" rx="5"/><text y="3.5">TAB2</text></g>
<g id="n-TAB3" class="node kin" transform="translate(301 383)"><rect x="-17.5" y="-17.5" width="35" height="35" rx="5"/><text y="3.5">TAB3</text></g>
<g id="n-SRC" class="node kin" transform="translate(194 429)"><rect x="-17.5" y="-17.5" width="35" height="35" rx="5"/><text y="3.5">SRC</text></g>
<g id="n-PDE4D" class="node kin" transform="translate(242 434)"><rect x="-17.5" y="-17.5" width="35" height="35" rx="5"/><text y="3.5">PDE4D</text></g>
<g id="n-FAK2" class="node kin" transform="translate(148 443)"><rect x="-17.5" y="-17.5" width="35" height="35" rx="5"/><text y="3.5">FAK2</text></g>
<g id="n-KAPCA" class="node kin" transform="translate(286 455)"><rect x="-17.5" y="-17.5" width="35" height="35" rx="5"/><text y="3.5">KAPCA</text></g>
<g id="n-KSYK" class="node kin" transform="translate(109 472)"><rect x="-17.5" y="-17.5" width="35" height="35" rx="5"/><text y="3.5">KSYK</text></g>
<g id="n-PDE3B" class="node kin" transform="translate(319 491)"><rect x="-17.5" y="-17.5" width="35" height="35" rx="5"/><text y="3.5">PDE3B</text></g>
<g id="n-TXK" class="node kin" transform="translate(387 427)"><rect x="-17.5" y="-17.5" width="35" height="35" rx="5"/><text y="3.5">TXK</text></g>
<g id="n-M3K3" class="node kin" transform="translate(387 471)"><rect x="-17.5" y="-17.5" width="35" height="35" rx="5"/><text y="3.5">M3K3</text></g>
<g id="n-RIPK1" class="node kin" transform="translate(387 516)"><rect x="-17.5" y="-17.5" width="35" height="35" rx="5"/><text y="3.5">RIPK1</text></g>
<g id="n-AKT1" class="node kin" transform="translate(336 537)"><rect x="-17.5" y="-17.5" width="35" height="35" rx="5"/><text y="3.5">AKT1</text></g>
<g id="n-PDK1" class="node kin" transform="translate(387 561)"><rect x="-17.5" y="-17.5" width="35" height="35" rx="5"/><text y="3.5">PDK1</text></g>
<g id="n-IRAK1" class="node kin" transform="translate(336 585)"><rect x="-17.5" y="-17.5" width="35" height="35" rx="5"/><text y="3.5">IRAK1</text></g>
<g id="n-MAPK2" class="node kin" transform="translate(387 606)"><rect x="-17.5" y="-17.5" width="35" height="35" rx="5"/><text y="3.5">MAPK2</text></g>
<g id="n-PLCG2" class="node kin" transform="translate(84 514)"><rect x="-17.5" y="-17.5" width="35" height="35" rx="5"/><text y="3.5">PLCG2</text></g>
<g id="n-M3K1" class="node kin" transform="translate(74 561)"><rect x="-17.5" y="-17.5" width="35" height="35" rx="5"/><text y="3.5">M3K1</text></g>
<g id="n-ITK" class="node kin" transform="translate(84 609)"><rect x="-17.5" y="-17.5" width="35" height="35" rx="5"/><text y="3.5">ITK</text></g>
<g id="n-BMX" class="node kin" transform="translate(109 650)"><rect x="-17.5" y="-17.5" width="35" height="35" rx="5"/><text y="3.5">BMX</text></g>
<g id="n-P85A" class="node kin" transform="translate(319 631)"><rect x="-17.5" y="-17.5" width="35" height="35" rx="5"/><text y="3.5">P85A</text></g>
<g id="n-PTEN" class="node kin" transform="translate(387 655)"><rect x="-17.5" y="-17.5" width="35" height="35" rx="5"/><text y="3.5">PTEN</text></g>
<g id="n-TEC" class="node kin" transform="translate(148 680)"><rect x="-17.5" y="-17.5" width="35" height="35" rx="5"/><text y="3.5">TEC</text></g>
<g id="n-PLCG1" class="node kin" transform="translate(286 666)"><rect x="-17.5" y="-17.5" width="35" height="35" rx="5"/><text y="3.5">PLCG1</text></g>
<g id="n-BTK" class="node kin" transform="translate(242 688)"><rect x="-17.5" y="-17.5" width="35" height="35" rx="5"/><text y="3.5">BTK</text></g>
<g id="n-KPCT" class="node kin" transform="translate(194 693)"><rect x="-17.5" y="-17.5" width="35" height="35" rx="5"/><text y="3.5">KPCT</text></g>
<g id="n-CSK21" class="node kin" transform="translate(387 697)"><rect x="-17.5" y="-17.5" width="35" height="35" rx="5"/><text y="3.5">CSK21</text></g>
<g id="n-ATM" class="node kin" transform="translate(103 742)"><rect x="-17.5" y="-17.5" width="35" height="35" rx="5"/><text y="3.5">ATM</text></g>
<g id="n-TAK1L" class="node kin" transform="translate(146 742)"><rect x="-17.5" y="-17.5" width="35" height="35" rx="5"/><text y="3.5">TAK1L</text></g>
<g id="n-CAR11" class="node kin" transform="translate(189 742)"><rect x="-17.5" y="-17.5" width="35" height="35" rx="5"/><text y="3.5">CAR11</text></g>
<g id="n-MAPK5" class="node kin" transform="translate(235 742)"><rect x="-17.5" y="-17.5" width="35" height="35" rx="5"/><text y="3.5">MAPK5</text></g>
<g id="n-E2AK2" class="node kin" transform="translate(281 742)"><rect x="-17.5" y="-17.5" width="35" height="35" rx="5"/><text y="3.5">E2AK2</text></g>
<g id="n-SIRT1" class="node kin" transform="translate(332 741)"><rect x="-17.5" y="-17.5" width="35" height="35" rx="5"/><text y="3.5">SIRT1</text></g>
<g id="n-IRAK4" class="node kin" transform="translate(387 742)"><rect x="-17.5" y="-17.5" width="35" height="35" rx="5"/><text y="3.5">IRAK4</text></g>

<g id="n-SKP1" class="node ub" transform="translate(527 402)"><rect x="-17.5" y="-17" width="35" height="34" rx="5"/><text y="3.5">SKP1</text></g>
<g id="n-RBX1" class="node ub" transform="translate(568 401)"><rect x="-17.5" y="-17" width="35" height="34" rx="5"/><text y="3.5">RBX1</text></g>
<g id="n-UBIQ" class="node ub" transform="translate(618 402)"><rect x="-17.5" y="-17" width="35" height="34" rx="5"/><text y="3.5">UBIQ</text></g>

<g id="n-BIRC2" class="node cas" transform="translate(524 542)"><rect x="-17.5" y="-17" width="35" height="34" rx="5"/><text y="3.5">BIRC2</text></g>
<g id="n-BIRC3" class="node cas" transform="translate(564 542)"><rect x="-17.5" y="-17" width="35" height="34" rx="5"/><text y="3.5">BIRC3</text></g>
<g id="n-CASP3" class="node cas" transform="translate(604 542)"><rect x="-17.5" y="-17" width="35" height="34" rx="5"/><text y="3.5">CASP3</text></g>

<g id="n-PSA5" class="node pro" transform="translate(887 399)"><rect x="-17.5" y="-17" width="35" height="34" rx="4"/><text y="3.5">PSA5</text></g>
<g id="n-PSA7" class="node pro" transform="translate(936 399)"><rect x="-17.5" y="-17" width="35" height="34" rx="4"/><text y="3.5">PSA7</text></g>
<g id="n-PRS6A" class="node pro" transform="translate(984 410)"><rect x="-17.5" y="-17" width="35" height="34" rx="4"/><text y="3.5">PRS6A</text></g>
<g id="n-PRS10" class="node pro" transform="translate(1027 430)"><rect x="-17.5" y="-17" width="35" height="34" rx="4"/><text y="3.5">PRS10</text></g>
<g id="n-PSMD4" class="node pro" transform="translate(1065 461)"><rect x="-17.5" y="-17" width="35" height="34" rx="4"/><text y="3.5">PSMD4</text></g>
<g id="n-PSD11" class="node pro" transform="translate(1096 499)"><rect x="-17.5" y="-17" width="35" height="34" rx="4"/><text y="3.5">PSD11</text></g>
<g id="n-PRS6B" class="node pro" transform="translate(1116 543)"><rect x="-17.5" y="-17" width="35" height="34" rx="4"/><text y="3.5">PRS6B</text></g>
<g id="n-PRS8" class="node pro" transform="translate(1127 590)"><rect x="-17.5" y="-17" width="35" height="34" rx="4"/><text y="3.5">PRS8</text></g>
<g id="n-PRS7" class="node pro" transform="translate(1127 639)"><rect x="-17.5" y="-17" width="35" height="34" rx="4"/><text y="3.5">PRS7</text></g>
<g id="n-PSMD2" class="node pro" transform="translate(1116 686)"><rect x="-17.5" y="-17" width="35" height="34" rx="4"/><text y="3.5">PSMD2</text></g>
<g id="n-PSD13" class="node pro" transform="translate(1096 730)"><rect x="-17.5" y="-17" width="35" height="34" rx="4"/><text y="3.5">PSD13</text></g>
<g id="n-PSA6" class="node pro" transform="translate(1065 768)"><rect x="-17.5" y="-17" width="35" height="34" rx="4"/><text y="3.5">PSA6</text></g>
<g id="n-PSA2" class="node pro" transform="translate(1027 798)"><rect x="-17.5" y="-17" width="35" height="34" rx="4"/><text y="3.5">PSA2</text></g>
<g id="n-PSB5" class="node pro" transform="translate(984 819)"><rect x="-17.5" y="-17" width="35" height="34" rx="4"/><text y="3.5">PSB5</text></g>
<g id="n-PSB4" class="node pro" transform="translate(936 830)"><rect x="-17.5" y="-17" width="35" height="34" rx="4"/><text y="3.5">PSB4</text></g>
<g id="n-PSA1" class="node pro" transform="translate(887 830)"><rect x="-17.5" y="-17" width="35" height="34" rx="4"/><text y="3.5">PSA1</text></g>
<g id="n-PSA4" class="node pro" transform="translate(840 819)"><rect x="-17.5" y="-17" width="35" height="34" rx="4"/><text y="3.5">PSA4</text></g>
<g id="n-PSB6" class="node pro" transform="translate(796 798)"><rect x="-17.5" y="-17" width="35" height="34" rx="4"/><text y="3.5">PSB6</text></g>
<g id="n-PSB7" class="node pro" transform="translate(758 768)"><rect x="-17.5" y="-17" width="35" height="34" rx="4"/><text y="3.5">PSB7</text></g>
<g id="n-PSB1" class="node pro" transform="translate(728 730)"><rect x="-17.5" y="-17" width="35" height="34" rx="4"/><text y="3.5">PSB1</text></g>
<g id="n-PSB2" class="node pro" transform="translate(707 686)"><rect x="-17.5" y="-17" width="35" height="34" rx="4"/><text y="3.5">PSB2</text></g>
<g id="n-PSA3" class="node pro" transform="translate(696 639)"><rect x="-17.5" y="-17" width="35" height="34" rx="4"/><text y="3.5">PSA3</text></g>
<g id="n-PSDE" class="node pro" transform="translate(696 590)"><rect x="-17.5" y="-17" width="35" height="34" rx="4"/><text y="3.5">PSDE</text></g>
<g id="n-PSMD6" class="node pro" transform="translate(707 543)"><rect x="-17.5" y="-17" width="35" height="34" rx="4"/><text y="3.5">PSMD6</text></g>
<g id="n-PSB3" class="node pro" transform="translate(728 499)"><rect x="-17.5" y="-17" width="35" height="34" rx="4"/><text y="3.5">PSB3</text></g>
<g id="n-PSB10" class="node pro" transform="translate(758 461)"><rect x="-17.5" y="-17" width="35" height="34" rx="4"/><text y="3.5">PSB10</text></g>
<g id="n-PSB9" class="node pro" transform="translate(796 430)"><rect x="-17.5" y="-17" width="35" height="34" rx="4"/><text y="3.5">PSB9</text></g>
<g id="n-PSB8" class="node pro" transform="translate(840 410)"><rect x="-17.5" y="-17" width="35" height="34" rx="4"/><text y="3.5">PSB8</text></g>

<g id="n-SUMO3" class="node reg" transform="translate(489 702)"><rect x="-17.5" y="-17.5" width="35" height="35" rx="5"/><text y="3.5">SUMO3</text></g>
<g id="n-IKKB" class="node reg" transform="translate(548 702)"><rect x="-17.5" y="-17.5" width="35" height="35" rx="5"/><text y="3.5">IKKB</text></g>
<g id="n-M3K14" class="node reg" transform="translate(592 702)"><rect x="-17.5" y="-17.5" width="35" height="35" rx="5"/><text y="3.5">M3K14</text></g>
<g id="n-SUMO2" class="node reg" transform="translate(489 758)"><rect x="-17.5" y="-17.5" width="35" height="35" rx="5"/><text y="3.5">SUMO2</text></g>
<g id="n-IKKA" class="node reg" transform="translate(548 746)"><rect x="-17.5" y="-17.5" width="35" height="35" rx="5"/><text y="3.5">IKKA</text></g>
<g id="n-NEMO" class="node reg" transform="translate(592 746)"><rect x="-17.5" y="-17.5" width="35" height="35" rx="5"/><text y="3.5">NEMO</text></g>
<g id="n-SUMO4" class="node reg" transform="translate(489 817)"><rect x="-17.5" y="-17.5" width="35" height="35" rx="5"/><text y="3.5">SUMO4</text></g>
<g id="n-BCL3" class="node reg" transform="translate(544 817)"><rect x="-17.5" y="-17.5" width="35" height="35" rx="5"/><text y="3.5">BCL3</text></g>
<g id="n-SUMO1" class="node reg" transform="translate(589 815)"><rect x="-17.5" y="-17.5" width="35" height="35" rx="5"/><text y="3.5">SUMO1</text></g>
<g id="n-IKKE" class="node reg" transform="translate(489 865)"><rect x="-17.5" y="-17.5" width="35" height="35" rx="5"/><text y="3.5">IKKE</text></g>
<g id="n-PIAS4" class="node reg" transform="translate(543 867)"><rect x="-17.5" y="-17.5" width="35" height="35" rx="5"/><text class="dk" y="3.5">PIAS4</text></g>
<g id="n-TANK" class="node reg" transform="translate(589 866)"><rect x="-17.5" y="-17.5" width="35" height="35" rx="5"/><text class="dk" y="3.5">TANK</text></g>

<g id="n-IKBA" class="node inh" transform="translate(500 1017)"><rect x="-17.5" y="-17.5" width="35" height="35" rx="5"/><text y="3.5">IKBA</text></g>
<g id="n-IKBB" class="node inh" transform="translate(556 1017)"><rect x="-17.5" y="-17.5" width="35" height="35" rx="5"/><text y="3.5">IKBB</text></g>
<g id="n-IKBE" class="node inh" transform="translate(601 1017)"><rect x="-17.5" y="-17.5" width="35" height="35" rx="5"/><text y="3.5">IKBE</text></g>

<g id="n-TF65" class="node core" transform="translate(524 1141)"><rect x="-17.5" y="-17.5" width="35" height="35" rx="5"/><text y="3.5">TF65</text></g>
<g id="n-NFKB2" class="node core" transform="translate(567 1127)"><rect x="-17.5" y="-17.5" width="35" height="35" rx="5"/><text y="3.5">NFKB2</text></g>
<g id="n-NFKB1" class="node core" transform="translate(594 1164)"><rect x="-17.5" y="-17.5" width="35" height="35" rx="5"/><text y="3.5">NFKB1</text></g>
<g id="n-REL" class="node core" transform="translate(524 1187)"><rect x="-17.5" y="-17.5" width="35" height="35" rx="5"/><text y="3.5">REL</text></g>
<g id="n-RELB" class="node core" transform="translate(567 1201)"><rect x="-17.5" y="-17.5" width="35" height="35" rx="5"/><text y="3.5">RELB</text></g>

<g id="n-P53" class="node tr" transform="translate(263 1158)"><rect x="-17.5" y="-17.5" width="35" height="35" rx="5"/><text y="3.5">P53</text></g>
<g id="n-IF2A" class="node tr" transform="translate(315 1156)"><rect x="-17.5" y="-17.5" width="35" height="35" rx="5"/><text y="3.5">IF2A</text></g>
<g id="n-FOXO3" class="node tr" transform="translate(366 1155)"><rect x="-17.5" y="-17.5" width="35" height="35" rx="5"/><text y="3.5">FOXO3</text></g>
<g id="n-NKRF" class="node tr" transform="translate(419 1157)"><rect x="-17.5" y="-17.5" width="35" height="35" rx="5"/><text y="3.5">NKRF</text></g>
</svg>
